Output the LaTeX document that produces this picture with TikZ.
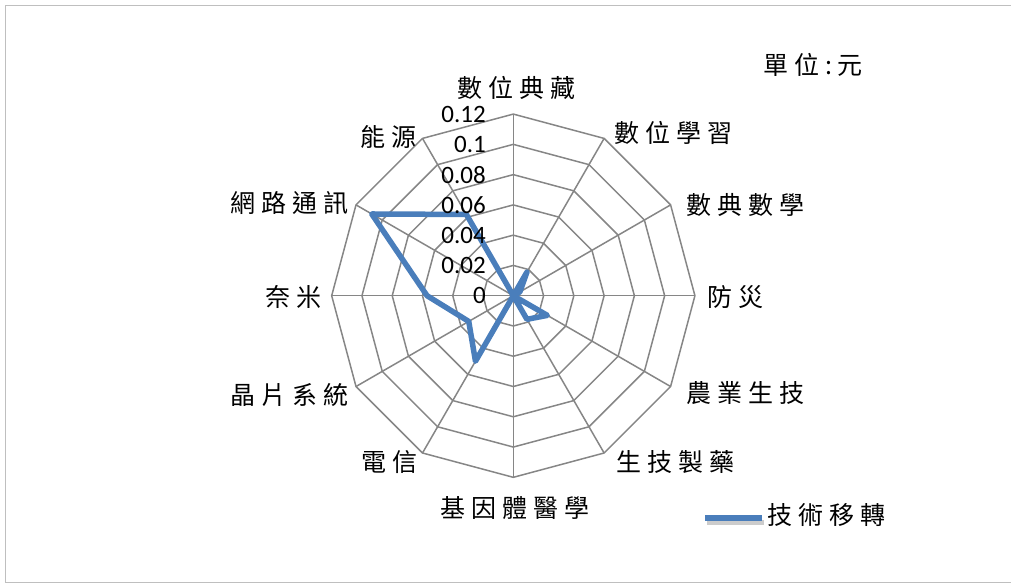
\documentclass[tikz,border=0pt]{standalone}
\usepackage{fontspec}
\setmainfont{Carlito}
\newfontfamily\cjk[LetterSpace=24]{Noto Sans CJK TC}
\definecolor{seriesblue}{HTML}{4A7EBB}
\definecolor{gridgray}{HTML}{868686}
\tikzset{
  grid line/.style={color=gridgray, line width=1.5pt},
  series/.style={color=seriesblue, line width=5.5pt, line join=round},
  cat/.style={font=\cjk\fontsize{25}{25}\selectfont, inner sep=0pt},
  tick/.style={anchor=east, font=\fontsize{25}{25}\selectfont, inner sep=0pt}
}
\begin{document}
\begin{tikzpicture}[x=1pt,y=-1pt]
\useasboundingbox (0,0) rectangle (1011,584);
\draw[color=black!25, line width=1.2pt] (5.5,5.5) rectangle (1020,582.5); % chart frame
\begin{scope}[shift={(513.3,295.7)}]
\foreach \r in {1,...,6} % edit here for the rings
\draw[grid line] (-90:\r*30.27) \foreach \k in {1,...,11} {-- (-90+30*\k:\r*30.27)} -- cycle;
\foreach \k in {0,...,11} % edit here for the spokes
\draw[grid line] (0,0) -- (-90+30*\k:181.6);
\foreach \v [count=\k from 0] in {0,0.018,0.005,0,0.026,0.018,0,0.050,0.034,0.057,0.108,0.062} % edit here for the data
\coordinate (p\k) at (-90+30*\k:\v*1513.3);
\draw[series] (p0) -- (p1) -- (p2) -- (p3) -- (p4) -- (p5) -- (p6) -- (p7) -- (p8) -- (p9) -- (p10) -- (p11) -- cycle;
\end{scope}
\foreach \v [count=\i from 0] in {0,0.02,0.04,0.06,0.08,0.1,0.12} % edit here for the numbers
\node[tick] (tick\i) at (486,295.7-\i*30.27) {\v};
% category labels
\node[cat] (dianzang) at (516,88) {數位典藏};
\node[cat] (xuexi) at (673,133) {數位學習};
\node[cat] (shuxue) at (745,205) {數典數學};
\node[cat] (fangzai) at (735,297) {防災};
\node[cat] (nongye) at (745,393) {農業生技};
\node[cat] (zhiyao) at (675,462) {生技製藥};
\node[cat] (yixue) at (515,508) {基因體醫學};
\node[cat] (dianxin) at (389,462) {電信};
\node[cat] (jingpian) at (289,395) {晶片系統};
\node[cat] (naimi) at (293,297) {奈米};
\node[cat] (wanglu) at (289,203) {網路通訊};
\node[cat] (nengyuan) at (388,137) {能源};
\node[cat] (unit) at (813,65) {單位:元};
% legend
\coordinate (leg a) at (705,518);
\coordinate (leg b) at (762,518);
\draw[line width=5pt, black!20] ([shift={(2,4)}]leg a) -- ([shift={(2,4)}]leg b);
\draw[series] (leg a) -- (leg b);
\node[cat, anchor=west] (legtext) at (767,515) {技術移轉};
\end{tikzpicture}
\end{document}
